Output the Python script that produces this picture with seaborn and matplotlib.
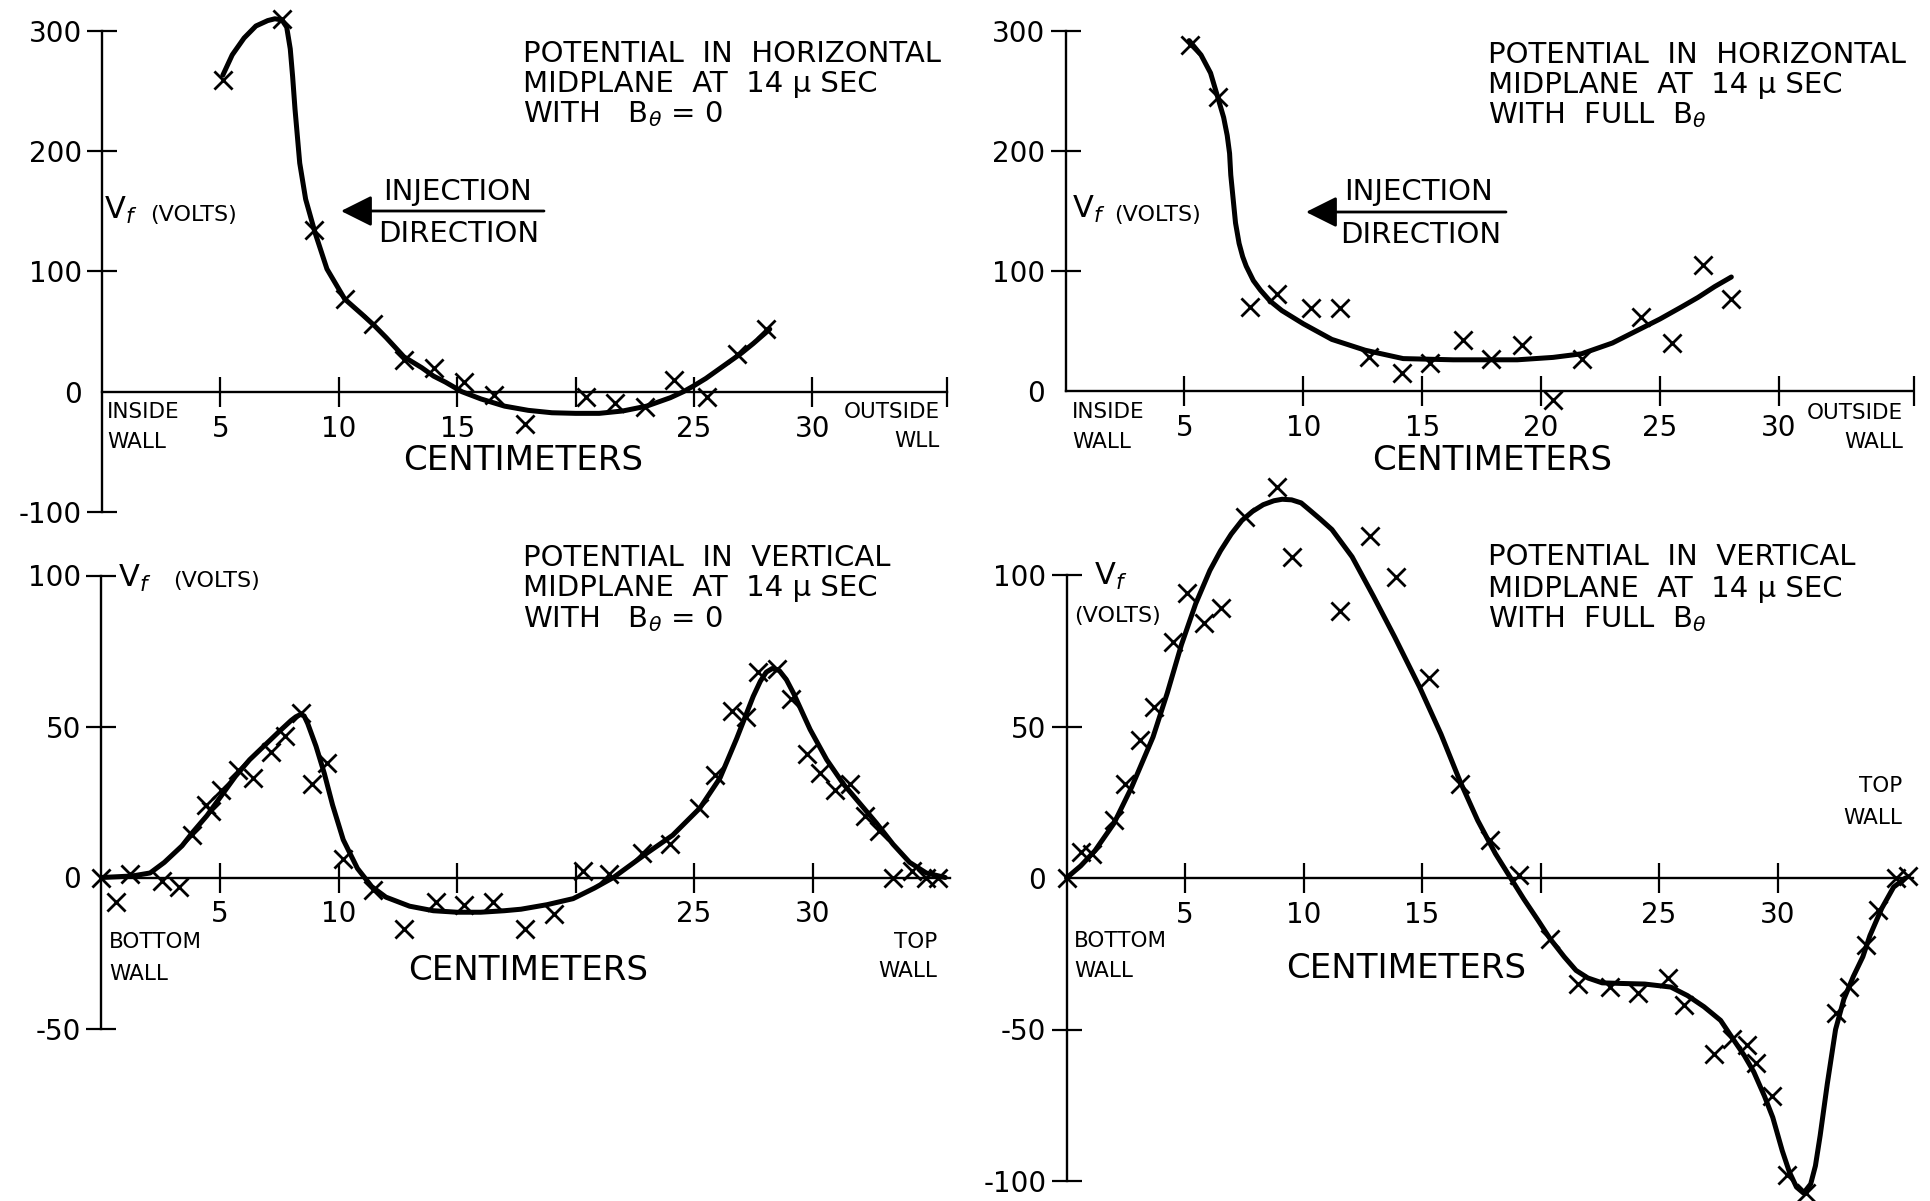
import matplotlib
matplotlib.use("Agg")
import matplotlib.pyplot as plt
from matplotlib.patches import FancyArrowPatch
import seaborn as sns

W, H = 1931, 1201

# ---------------- data: distance (cm) and floating potential V_f (volts) ----------------
# Horizontal midplane, B_theta = 0
hz0_curve_x = [5.1, 5.5, 6.0, 6.5, 7.0, 7.3, 7.6, 7.8, 7.95, 8.05, 8.15, 8.35, 8.6, 9.0, 9.5,
               10.25, 11.0, 11.5, 12.0, 12.75, 13.5, 14.0, 14.5, 15.2, 16.0, 17.0, 18.0,
               19.0, 20.0, 21.0, 22.0, 23.0, 24.0, 24.55, 25.0, 25.5, 26.0, 26.5, 27.0,
               27.5, 28.2]
hz0_curve_y = [263, 280, 294, 304, 308.5, 310, 309, 303, 285, 262, 235, 190, 160, 132, 102,
               77, 64, 55, 45, 29, 20, 13, 8, 0, -6, -12, -15.5,
               -17.5, -18, -18, -16, -12, -5, 0, 5, 11, 18, 25, 32,
               40, 52]
hz0_pts_x = [5.1, 7.6, 8.95, 10.25, 11.45, 12.75, 14.0, 15.3, 16.55, 17.85, 20.45, 21.65,
             22.95, 24.15, 25.55, 26.8, 28.05]
hz0_pts_y = [259, 310, 134, 77, 56, 26, 20, 8, -3, -27, -4, -9, -13, 10, -4, 31, 52]

# Horizontal midplane, full B_theta
hzf_curve_x = [5.2, 5.7, 6.1, 6.4, 6.65, 6.8, 6.9, 6.95, 7.05, 7.15, 7.3, 7.45, 7.6, 7.9,
               8.2, 8.6, 9.1, 10.0, 11.2, 12.6, 14.2, 16.3, 17.5, 19.0, 20.5, 21.7, 23.0,
               24.2, 25.0, 25.9, 26.6, 27.3, 28.0]
hzf_curve_y = [292, 280, 265, 245, 228, 213, 198, 180, 160, 140, 123, 112, 104, 92,
               84, 75, 67, 56, 43, 34, 27, 26, 26, 26, 28, 31, 40,
               52, 60, 70, 78, 87, 95]
hzf_pts_x = [5.22, 6.41, 7.74, 8.9, 10.32, 11.56, 12.77, 14.15, 15.33, 16.7, 17.9, 19.2,
             20.5, 21.7, 24.2, 25.5, 26.8, 28.0]
hzf_pts_y = [288, 245, 70, 81, 69, 69, 28.6, 14.7, 23, 42.5, 27, 38, -7.5, 27, 62, 40, 105, 77]

# Vertical midplane, B_theta = 0
vt0_curve_x = [0, 1.3, 2.05, 2.65, 3.4, 3.85, 4.45, 5.05, 5.65, 6.25, 6.85, 7.45, 8.0, 8.2,
               8.4, 8.55, 8.7, 9.05, 9.4, 9.75, 10.2, 10.8, 11.4, 12.0, 13.0, 14.0, 15.0,
               16.0, 17.0, 17.7, 18.8, 19.9, 20.8, 21.6, 23.0, 24.1, 25.25, 26.1, 26.8,
               27.5, 27.8, 28.05, 28.3, 28.6, 28.9, 29.2, 29.9, 30.6, 31.3, 32.0, 32.7,
               33.4, 34.1, 34.8, 35.6]
vt0_curve_y = [0, 0.5, 1.5, 5, 10.5, 15, 20.5, 27, 33.5, 39, 43.5, 48, 52, 53.2,
               54, 53.5, 51, 43.5, 34.5, 24, 12.5, 3, -3, -6.5, -9.5, -11, -11.5,
               -11.5, -11, -10.5, -9, -7, -3.5, 0, 8, 14, 23, 33, 46,
               60, 65, 68, 69.2, 68.5, 65.5, 61, 49, 39, 31, 24.5, 18,
               11, 5, 1.5, 0]
vt0_pts_x = [0.0, 0.6, 1.2, 2.55, 3.25, 3.8, 4.4, 4.6, 5.05, 5.75, 6.4, 7.15, 7.75, 8.4, 8.9,
             9.5, 10.2, 11.45, 12.75, 14.1, 15.3, 16.5, 17.85, 19.1, 20.3, 21.4, 22.8, 24.0,
             25.2, 25.9, 26.6, 27.2, 27.7, 28.5, 29.1, 29.75, 30.3, 30.95, 31.6, 32.2, 32.8,
             33.4, 34.2, 34.8, 35.3]
vt0_pts_y = [0, -8, 1, -1, -3, 14, 24, 22, 29, 35.5, 33, 41.5, 47, 54.5, 31,
             38, 6, -4, -17, -8, -9, -8, -17, -12, 2, 1, 8, 11,
             23, 34, 55, 53, 68, 69, 59, 41, 34.5, 29, 31, 20.5, 15.5,
             0, 2, 0, 0]

# Vertical midplane, full B_theta
vtf_curve_x = [0, 0.6, 1.2, 2.0, 2.75, 3.65, 4.25, 4.85, 5.45, 6.05, 6.5, 6.95, 7.4, 7.85,
               8.3, 8.75, 9.1, 9.5, 9.9, 10.25, 10.7, 11.2, 12.05, 12.95, 13.85, 14.9, 15.8,
               16.6, 17.35, 18.1, 18.7, 19.3, 19.9, 20.4, 21.0, 21.5, 22.0, 22.6, 23.4, 24.4,
               25.5, 26.2, 26.9, 27.6, 28.2, 28.6, 29.0, 29.45, 29.8, 30.2, 30.5, 30.8, 31.1,
               31.4, 31.6, 31.8, 32.1, 32.45, 32.8, 33.2, 33.6, 33.9, 34.4, 34.9, 35.4]
vtf_curve_y = [0, 4, 9, 18, 30, 46.5, 61, 77, 90.5, 101.5, 108, 113.5, 118, 121,
               123.2, 124.5, 125, 124.8, 123.8, 121.5, 118.5, 115, 106, 93, 79.5, 63, 47.5,
               32, 19, 8, 0.5, -7, -14, -20, -26, -30.5, -33, -34.6, -34.8, -35,
               -36, -38.8, -42.5, -47, -54, -58.6, -64, -72, -79, -90, -97, -102, -104,
               -101, -95, -85, -68, -50, -40, -32.5, -26, -19, -10, -3, 0]
vtf_pts_x = [0, 0.63, 1.08, 2.0, 2.45, 3.1, 3.7, 4.5, 5.1, 5.8, 6.5, 7.55, 8.9, 9.5, 11.55,
             12.8, 13.9, 15.3, 16.6, 17.85, 19.1, 20.4, 21.6, 22.95, 24.1, 25.4, 26.05, 27.3,
             28.1, 28.7, 29.1, 29.75, 30.4, 31.2, 32.45, 33.0, 33.75, 34.25, 35.0, 35.5]
vtf_pts_y = [0, 8.5, 8, 19, 31, 45.5, 56.5, 78, 94, 84, 89, 119, 129, 106, 88,
             113, 99.5, 66, 31, 12.6, 1, -20, -35, -36, -38, -33, -42, -58,
             -53, -55, -61, -72, -98, -104, -44.5, -36, -22, -10.5, 0, 0.5]

# ---------------- tick values and labels ----------------
hz_xticks = [5, 10, 15, 20, 25, 30, 35.7]
hz0_xlabels = ["5", "10", "15", "", "25", "30", ""]
hzf_xlabels = ["5", "10", "15", "20", "25", "30", ""]
vt_xticks = [5, 10, 15, 20, 25, 30]
vt0_xlabels = ["5", "10", "", "", "25", "30"]
vtf_xlabels = ["5", "10", "15", "", "25", "30"]
hz0_yticks = [-100, 0, 100, 200, 300]
hz0_ylabels = ["-100", "0", "100", "200", "300"]
hzf_yticks = [0, 100, 200, 300]
hzf_ylabels = ["0", "100", "200", "300"]
vt0_yticks = [-50, 0, 50, 100]
vt0_ylabels = ["-50", "0", "50", "100"]
vtf_yticks = [-100, -50, 0, 50, 100]
vtf_ylabels = ["-100", "-50", "0", "50", "100"]

sns.set_theme(style="white")
plt.rcParams["font.family"] = ["DejaVu Sans"]
plt.rcParams["mathtext.fontset"] = "dejavusans"

fig = plt.figure(figsize=(W / 100, H / 100), dpi=100)
fig.patch.set_facecolor("white")


def make_axes(x0, y0, pxcm, pxu, xlim, ylim):
    """Axes whose data origin sits at pixel (x0, y0) measured from the top-left."""
    left = x0 + xlim[0] * pxcm
    right = x0 + xlim[1] * pxcm
    top = y0 - ylim[1] * pxu
    bottom = y0 - ylim[0] * pxu
    ax = fig.add_axes([left / W, 1 - bottom / H, (right - left) / W, (bottom - top) / H])
    ax.set_xlim(*xlim)
    ax.set_ylim(*ylim)
    ax.patch.set_visible(False)
    return ax


def style_axes(ax, xbound, ybound, xticks, xlabels, yticks, ylabels):
    for s in ("top", "right"):
        ax.spines[s].set_visible(False)
    ax.spines["bottom"].set_position(("data", 0))
    ax.spines["bottom"].set_bounds(*xbound)
    ax.spines["left"].set_bounds(*ybound)
    for s in ("bottom", "left"):
        ax.spines[s].set_linewidth(1.7)
        ax.spines[s].set_color("black")
    ax.set_xticks(xticks, labels=xlabels)
    ax.set_yticks(yticks, labels=ylabels)
    ax.tick_params(axis="both", direction="inout", length=21, width=1.6, labelsize=20,
                   colors="black", bottom=True, left=True, top=False, right=False)
    ax.tick_params(axis="x", pad=6)
    ax.tick_params(axis="y", pad=4)
    for t, v in zip(ax.yaxis.get_major_ticks(), yticks):
        if v == 0:
            t.tick1line.set_visible(False)
    ax.set_xlabel("")
    ax.set_ylabel("")
    ax.grid(False)


def draw(ax, cx, cy, px, py):
    sns.lineplot(x=cx, y=cy, ax=ax, color="black", linewidth=3.6, sort=False,
                 estimator=None)
    sns.scatterplot(x=px, y=py, ax=ax, marker="x", color="black", s=170,
                    linewidth=2.0, zorder=3)
    for art in ax.lines + ax.collections:
        art.set_clip_on(False)


def label(x, y, s, size, ha="left"):
    fig.text(x / W, 1 - y / H, s, fontsize=size, ha=ha, va="baseline", color="black")


def arrow(x_tail, x_tip, y):
    fig.add_artist(FancyArrowPatch(
        (x_tail / W, 1 - y / H), (x_tip / W, 1 - y / H), transform=fig.transFigure,
        arrowstyle="-|>,head_length=1.9,head_width=0.95", mutation_scale=10,
        lw=2.0, color="black", shrinkA=0, shrinkB=0))


# ---------------- panels ----------------
ax1 = make_axes(102, 391.7, 23.68, 1.203, (0, 37), (-105, 320))
style_axes(ax1, (0, 35.7), (-100, 300), hz_xticks, hz0_xlabels, hz0_yticks, hz0_ylabels)
draw(ax1, hz0_curve_x, hz0_curve_y, hz0_pts_x, hz0_pts_y)

ax2 = make_axes(1065.5, 391, 23.78, 1.2, (0, 37), (-20, 320))
style_axes(ax2, (0, 35.6), (0, 300), hz_xticks, hzf_xlabels, hzf_yticks, hzf_ylabels)
draw(ax2, hzf_curve_x, hzf_curve_y, hzf_pts_x, hzf_pts_y)

ax3 = make_axes(101.5, 877.5, 23.7, 3.02, (0, 37), (-55, 110))
style_axes(ax3, (0, 35.8), (-50, 100), vt_xticks, vt0_xlabels, vt0_yticks, vt0_ylabels)
draw(ax3, vt0_curve_x, vt0_curve_y, vt0_pts_x, vt0_pts_y)

ax4 = make_axes(1066.5, 878, 23.7, 3.03, (0, 37), (-110, 135))
style_axes(ax4, (0, 35.7), (-100, 100), vt_xticks, vtf_xlabels, vtf_yticks, vtf_ylabels)
draw(ax4, vtf_curve_x, vtf_curve_y, vtf_pts_x, vtf_pts_y)

# ---------------- annotations ----------------
TS = 21
label(523, 62, "POTENTIAL  IN  HORIZONTAL", TS)
label(523, 92, "MIDPLANE  AT  14 μ SEC", TS)
label(523, 122, "WITH   B$_\\theta$ = 0", TS)

label(1488, 63, "POTENTIAL  IN  HORIZONTAL", TS)
label(1488, 93, "MIDPLANE  AT  14 μ SEC", TS)
label(1488, 123, "WITH  FULL  B$_\\theta$", TS)

label(523, 566, "POTENTIAL  IN  VERTICAL", TS)
label(523, 596, "MIDPLANE  AT  14 μ SEC", TS)
label(523, 627, "WITH   B$_\\theta$ = 0", TS)

label(1488, 565, "POTENTIAL  IN  VERTICAL", TS)
label(1488, 597, "MIDPLANE  AT  14 μ SEC", TS)
label(1488, 627, "WITH  FULL  B$_\\theta$", TS)

# axis quantity labels
label(104, 219, "V$_f$", 22)
label(150, 221, "(VOLTS)", 16)
label(1072, 218, "V$_f$", 22)
label(1114, 221, "(VOLTS)", 16)
label(118, 587, "V$_f$", 22)
label(173, 587, "(VOLTS)", 16)
label(1094, 585, "V$_f$", 22)
label(1074, 622, "(VOLTS)", 16)

label(523, 470, "CENTIMETERS", 24.5, ha="center")
label(1492, 470, "CENTIMETERS", 24.5, ha="center")
label(528, 980, "CENTIMETERS", 24.5, ha="center")
label(1406, 978, "CENTIMETERS", 24.5, ha="center")

# injection direction markers
label(458, 200, "INJECTION", TS, ha="center")
label(459, 242, "DIRECTION", TS, ha="center")
arrow(544, 341, 211)
label(1419, 200, "INJECTION", TS, ha="center")
label(1421, 243, "DIRECTION", TS, ha="center")
arrow(1506, 1306, 212)

# wall labels
WS = 15.5
label(107, 418, "INSIDE", WS)
label(107, 448, "WALL", WS)
label(940, 418, "OUTSIDE", WS, ha="right")
label(940, 447, "WLL", WS, ha="right")
label(1072, 418, "INSIDE", WS)
label(1072, 448, "WALL", WS)
label(1903, 419, "OUTSIDE", WS, ha="right")
label(1903, 448, "WALL", WS, ha="right")

label(109, 948, "BOTTOM", WS)
label(109, 980, "WALL", WS)
label(937, 948, "TOP", WS, ha="right")
label(937, 977, "WALL", WS, ha="right")
label(1074, 947, "BOTTOM", WS)
label(1074, 977, "WALL", WS)
label(1902, 792, "TOP", WS, ha="right")
label(1902, 824, "WALL", WS, ha="right")

fig.savefig("out.png", dpi=100, facecolor="white")
